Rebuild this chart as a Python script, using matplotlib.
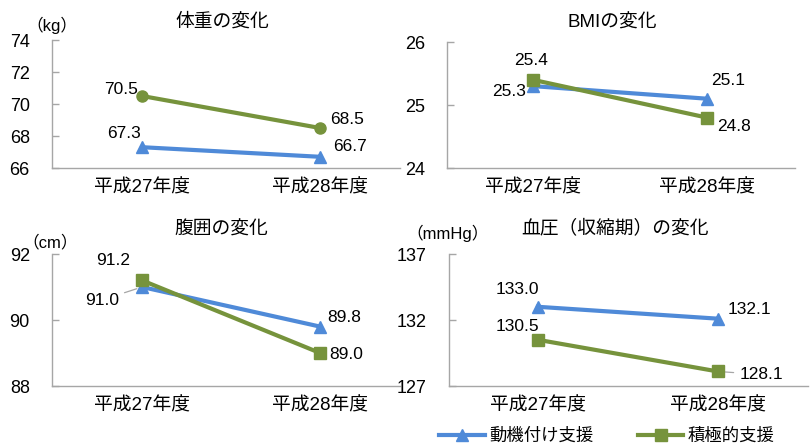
import matplotlib
matplotlib.use("Agg")
import matplotlib.pyplot as plt

plt.rcParams['font.family'] = ['Liberation Sans', 'Noto Sans CJK JP', 'DejaVu Sans']

years = ["平成27年度", "平成28年度"]
series_names = ["動機付け支援", "積極的支援"]

weight_motivation = [67.3, 66.7]
weight_active = [70.5, 68.5]
bmi_motivation = [25.3, 25.1]
bmi_active = [25.4, 24.8]
waist_motivation = [91.0, 89.8]
waist_active = [91.2, 89.0]
bp_motivation = [133.0, 132.1]
bp_active = [130.5, 128.1]

BLUE = '#4F8AD8'
GREEN = '#76933C'
GRAY = '#A6A6A6'

W, H = 812, 448


def px(x, y):
    return x / W, 1 - y / H


def make_axes(fig, x0, y0, x1, y1):
    return fig.add_axes([x0 / W, 1 - y1 / H, (x1 - x0) / W, (y1 - y0) / H])


fig = plt.figure(figsize=(W / 100, H / 100), dpi=100)

# box / title / unit positions are in px from the top-left corner,
# offs are label offsets in px for [blue0, blue1, green0, green1]
panels = [
    dict(box=(52, 40, 400, 168), xlim=(-0.506, 1.449), ylim=(66, 74), yticks=[66, 68, 70, 72, 74],
         title="体重の変化", tpos=(222, 22), unit="（kg）", upos=(52, 25),
         blue=weight_motivation, green=weight_active, gm='o', gms=8,
         offs=[(-18, 14), (30, 10), (-21, 7), (27, 9)], leader=[]),
    dict(box=(447, 42, 795, 168), xlim=(-0.494, 1.506), ylim=(24, 26), yticks=[24, 25, 26],
         title="BMIの変化", tpos=(612, 23), unit=None, upos=None,
         blue=bmi_motivation, green=bmi_active, gm='s', gms=8,
         offs=[(-24, -5), (21, 18), (-2, 19), (27, -9)], leader=[]),
    dict(box=(52, 254, 400, 386), xlim=(-0.506, 1.449), ylim=(88, 92), yticks=[88, 90, 92],
         title="腹囲の変化", tpos=(221, 230), unit="（cm）", upos=(50, 242),
         blue=waist_motivation, green=waist_active, gm='s', gms=8,
         offs=[(-40, -13), (24, 9), (-29, 20), (26, -1)], leader=[0]),
    dict(box=(449, 254, 808, 386), xlim=(-0.494, 1.5), ylim=(127, 137), yticks=[127, 132, 137],
         title="血圧（収縮期）の変化", tpos=(615, 228), unit="（mmHg）", upos=(448, 233),
         blue=bp_motivation, green=bp_active, gm='s', gms=8,
         offs=[(-21, 17), (31, 9), (-21, 13), (43, -3)], leader=[3]),
]

handles = []
for p in panels:
    ax = make_axes(fig, *p['box'])
    x = list(range(len(years)))
    hb, = ax.plot(x, p['blue'], color=BLUE, lw=3, marker='^', ms=9, zorder=3, clip_on=False)
    hg, = ax.plot(x, p['green'], color=GREEN, lw=3, marker=p['gm'], ms=p['gms'], zorder=4, clip_on=False)
    if not handles:
        handles = [hb]

    values = list(p['blue']) + list(p['green'])
    xs = x + x
    for i, (xi, v, off) in enumerate(zip(xs, values, p['offs'])):
        if i in p['leader']:
            ax.annotate(f"{v:.1f}", (xi, v), xytext=off, textcoords='offset pixels',
                        ha='center', va='center', fontsize=12.5,
                        arrowprops=dict(arrowstyle='-', color=GRAY, lw=0.9, shrinkA=2, shrinkB=4))
        else:
            ax.annotate(f"{v:.1f}", (xi, v), xytext=off, textcoords='offset pixels',
                        ha='center', va='center', fontsize=12.5)

    ax.set_xlim(*p['xlim'])
    ax.set_ylim(*p['ylim'])
    ax.set_yticks(p['yticks'])
    ax.set_xticks(x, years)
    ax.tick_params(axis='x', length=0, pad=8, labelsize=13.5)
    ax.tick_params(axis='y', direction='in', length=5, width=1, color=GRAY, pad=16, labelsize=13)
    for s in ['top', 'right']:
        ax.spines[s].set_visible(False)
    for s in ['left', 'bottom']:
        ax.spines[s].set_color(GRAY)
        ax.spines[s].set_linewidth(1)

    fig.text(*px(*p['tpos']), p['title'], ha='center', va='center', fontsize=13.5)
    if p['unit']:
        fig.text(*px(*p['upos']), p['unit'], ha='center', va='center', fontsize=12)

# legend uses square markers for the active-support series
legend_green, = plt.plot([], [], color=GREEN, lw=3, marker='s', ms=8)
fig.legend([handles[0], legend_green], series_names, loc='center', bbox_to_anchor=px(607, 436),
           ncol=2, frameon=False, fontsize=12.5, handlelength=2.6, handletextpad=0.25,
           columnspacing=2.6, borderpad=0)

fig.savefig("out.png", dpi=100)
